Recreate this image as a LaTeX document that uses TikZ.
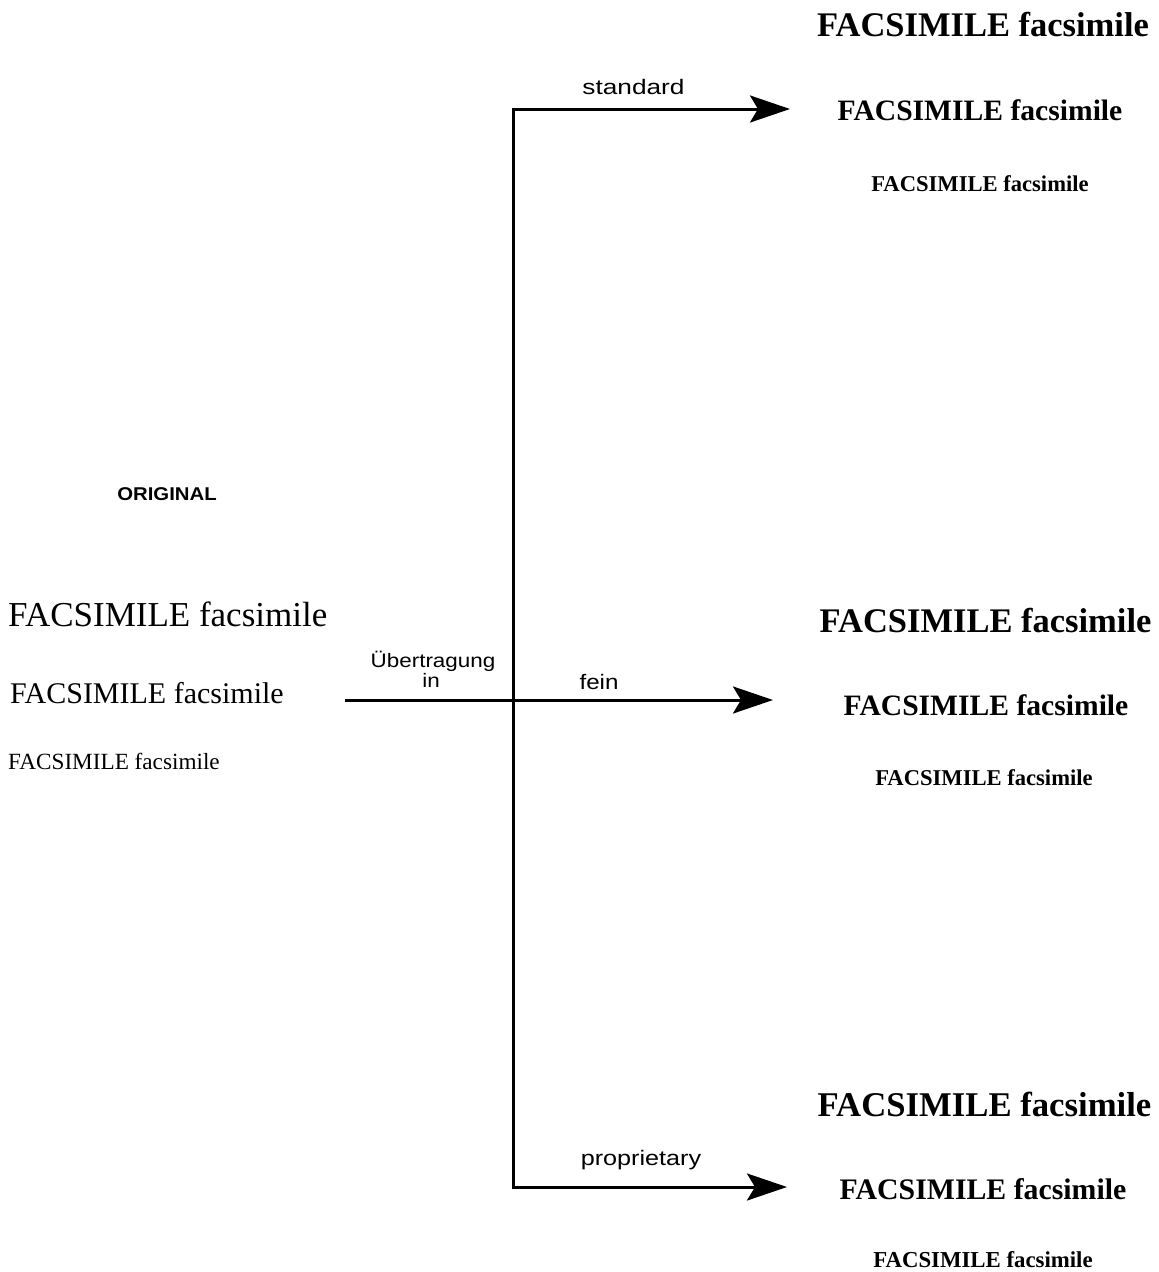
\documentclass[tikz,border=0pt]{standalone}
\usepackage{fontspec}
\setmainfont{Liberation Serif}
\setsansfont{Liberation Sans}
\usetikzlibrary{arrows.meta}
\begin{document}
\begin{tikzpicture}[x=1pt,y=-1pt,
  conn/.style={line width=3pt},
  arr/.style={conn,-{Stealth[length=40pt,width=27pt,inset=8pt]}},
  lab/.style={inner sep=0pt,font=\sffamily\fontsize{21}{24}\selectfont},
  lefttxt/.style={inner sep=0pt,anchor=base west},
  righttxt/.style={inner sep=0pt,anchor=base,font=\bfseries}]
\useasboundingbox (0,0) rectangle (1159,1272);
% left originals
\node[inner sep=0pt,font=\sffamily\bfseries\fontsize{18.5}{22}\selectfont] (orig) at (167,494) {\scalebox{1.1}[1]{ORIGINAL}};
\node[lefttxt,font=\fontsize{35}{40}\selectfont] (l1) at (8,626.5) {FACSIMILE facsimile};
\node[lefttxt,font=\fontsize{30}{36}\selectfont] (l2) at (10,703) {FACSIMILE facsimile};
\node[lefttxt,font=\fontsize{23.2}{28}\selectfont] (l3) at (8,769) {FACSIMILE facsimile};
% right: standard
\node[righttxt,font=\bfseries\fontsize{34.5}{40}\selectfont] (s1) at (983,36) {FACSIMILE facsimile};
\node[righttxt,font=\bfseries\fontsize{29.6}{36}\selectfont] (s2) at (980,120) {FACSIMILE facsimile};
\node[righttxt,font=\bfseries\fontsize{22.6}{28}\selectfont] (s3) at (980,191.5) {FACSIMILE facsimile};
% right: fein
\node[righttxt,font=\bfseries\fontsize{34.5}{40}\selectfont] (f1) at (985.5,632) {FACSIMILE facsimile};
\node[righttxt,font=\bfseries\fontsize{29.6}{36}\selectfont] (f2) at (986,715) {FACSIMILE facsimile};
\node[righttxt,font=\bfseries\fontsize{22.6}{28}\selectfont] (f3) at (984,785) {FACSIMILE facsimile};
% right: proprietary
\node[righttxt,font=\bfseries\fontsize{34.7}{40}\selectfont] (p1) at (984.5,1116) {FACSIMILE facsimile};
\node[righttxt,font=\bfseries\fontsize{29.8}{36}\selectfont] (p2) at (983,1199) {FACSIMILE facsimile};
\node[righttxt,font=\bfseries\fontsize{22.8}{28}\selectfont] (p3) at (983,1267) {FACSIMILE facsimile};
% connectors
\coordinate (src) at (345,700);
\coordinate (jn) at (513,700);
\coordinate (jt) at (513,109);
\coordinate (jb) at (513,1187);
\coordinate (ts) at (790,109);
\coordinate (tf) at (773,700);
\coordinate (tp) at (787,1187);
\draw[conn,line cap=rect] (jt) -- (jb);
\draw[arr] (jt) -- (ts);
\draw[arr] (src) -- (tf);
\draw[arr] (jb) -- (tp);
% labels
\node[lab,anchor=base] (ls) at (633.5,94) {\scalebox{1.25}[1]{standard}};
\node[lab,anchor=base] (lf) at (599,689) {\scalebox{1.15}[1]{fein}};
\node[lab,anchor=base] (lp) at (641,1165) {\scalebox{1.2}[1]{proprietary}};
\node[lab,anchor=base,font=\sffamily\fontsize{19.5}{19}\selectfont] (lu) at (433,667) {\scalebox{1.15}[1]{Übertragung}};
\node[lab,anchor=base,font=\sffamily\fontsize{19.5}{19}\selectfont] (li) at (431,687) {\scalebox{1.15}[1]{in}};
\end{tikzpicture}
\end{document}
